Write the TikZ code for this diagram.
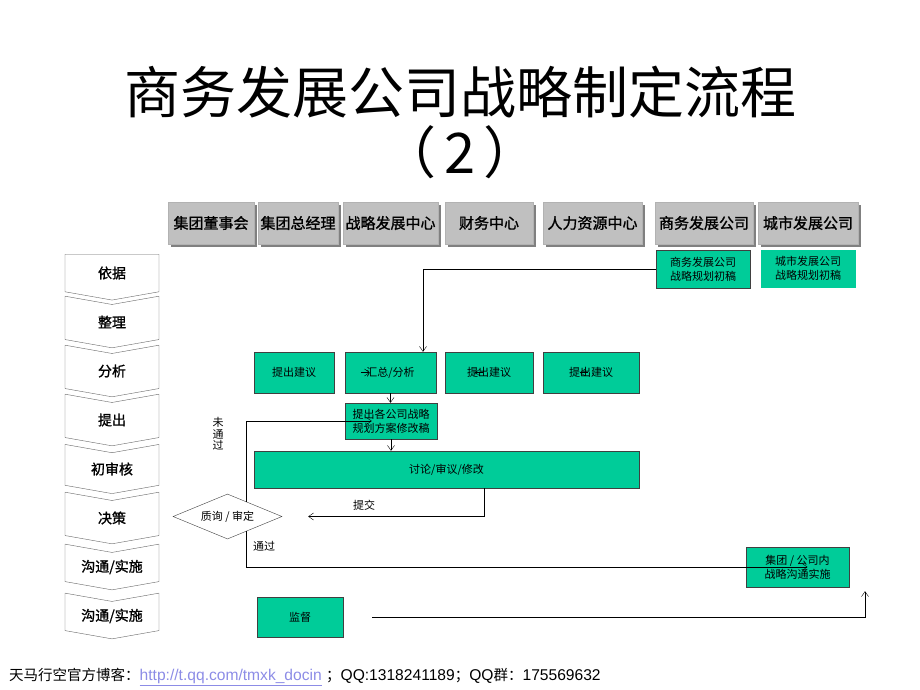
\documentclass[tikz,border=0pt]{standalone}
\usepackage{fontspec}
\setmainfont{Liberation Sans}
\newfontfamily\cjk{Noto Sans CJK SC}
\newfontfamily\cjkbold[FakeBold=1.2]{Noto Sans CJK SC}
\usetikzlibrary{shapes.geometric,shapes.symbols,shadows,arrows.meta,calc}
\definecolor{boxgreen}{RGB}{0,204,153}
\definecolor{headgray}{RGB}{192,192,192}
\definecolor{shadegray}{RGB}{128,128,128}
\definecolor{linkblue}{RGB}{140,140,230}

\begin{document}
\begin{tikzpicture}[x=1pt, y=-1pt,
    head/.style={draw=gray!60, fill=headgray, minimum height=42pt, inner sep=0pt,
        drop shadow={shadow xshift=2.5pt, shadow yshift=-2.5pt, fill=shadegray, opacity=1},
        font=\cjkbold\fontsize{15}{17}\selectfont},
    stage/.style={signal, signal to=south, signal from=north, signal pointer angle=160,
        draw=black!60, fill=white, minimum width=94pt, minimum height=40pt, inner sep=0pt,
        font=\cjkbold\fontsize{14}{16}\selectfont},
    task/.style={draw=black!75, fill=boxgreen, inner sep=0pt, align=center,
        font=\cjk\fontsize{11}{14}\selectfont},
    check/.style={diamond, draw=black!75, fill=white, minimum width=109pt,
        minimum height=45pt, aspect=2.4, inner sep=0pt, font=\cjk\fontsize{11}{13}\selectfont},
    flow/.style={thin, -{Straight Barb[length=5pt, width=7pt]}},
    note/.style={font=\cjk\fontsize{11}{11.5}\selectfont, align=center}
]
    \useasboundingbox (0,0) rectangle (920,690);

    \node[font=\cjk\fontsize{56}{60}\selectfont] (title) at (460,92) {商务发展公司战略制定流程};
    \node[font=\cjk\fontsize{56}{60}\selectfont] (subtitle) at (460,152) {（\hspace{8pt}2\hspace{8pt}）};

    \node[head, minimum width=86pt] (h1) at (211,223) {集团董事会};
    \node[head, minimum width=80pt] (h2) at (298,223) {集团总经理};
    \node[head, minimum width=95pt] (h3) at (390.5,223) {战略发展中心};
    \node[head, minimum width=88pt] (h4) at (489,223) {财务中心};
    \node[head, minimum width=99pt] (h5) at (592.5,223) {人力资源中心};
    \node[head, minimum width=98pt] (h6) at (704,223) {商务发展公司};
    \node[head, minimum width=100pt] (h7) at (808,223) {城市发展公司};

    \node[stage, signal from=nowhere] (st1) at (112,273) {依据};
    \node[stage] (st2) at (112,322) {整理};
    \node[stage] (st3) at (112,371) {分析};
    \node[stage] (st4) at (112,420) {提出};
    \node[stage] (st5) at (112,469) {初审核};
    \node[stage] (st6) at (112,518) {决策};
    \node[stage] (st7) at (112,567) {沟通/实施};
    \node[stage] (st8) at (112,616) {沟通/实施};

    \node[task, minimum width=94pt, minimum height=38pt] (bizdraft) at (703,269) {商务发展公司\\战略规划初稿};
    \node[task, draw=boxgreen, minimum width=94pt, minimum height=37pt] (citydraft) at (808,268.5) {城市发展公司\\战略规划初稿};
    \node[task, minimum width=80pt, minimum height=41pt] (s1) at (294,372.5) {提出建议};
    \node[task, minimum width=91pt, minimum height=41pt] (hz) at (390.5,372.5) {汇总/分析};
    \node[task, minimum width=88pt, minimum height=41pt] (s3) at (489,372.5) {提出建议};
    \node[task, minimum width=96pt, minimum height=41pt] (s4) at (591,372.5) {提出建议};
    \node[task, minimum width=92pt, minimum height=36pt] (rev) at (391,421) {提出各公司战略\\规划方案修改稿};
    \node[task, minimum width=385pt, minimum height=37pt] (disc) at (446.5,469.5) {讨论/审议/修改};
    \node[check] (dia) at (227.5,516.5) {质询 / 审定};
    \node[task, minimum width=103pt, minimum height=40pt] (impl) at (797.5,567) {集团 / 公司内\\战略沟通实施};
    \node[task, minimum width=86pt, minimum height=40pt] (sup) at (300,617) {监督};

    \node[note] (fail) at (218,434) {未\\通\\过};
    \node[note] (pass) at (264,546) {通过};
    \node[note] (submit) at (364,505) {提交};

    \draw[flow] (bizdraft.west) -| ([xshift=32.5pt]hz.north);
    \draw[flow] (hz.south) -- (hz.south |- rev.north);
    \draw[flow] (rev.south) -- (rev.south |- disc.north);
    \draw[flow] ([xshift=37.5pt]disc.south) |- ([xshift=26pt]dia.east);
    \draw[flow] ($(dia.north)!0.34!(dia.east)$) |- ([xshift=27pt]rev.west);
    \draw[flow] ($(dia.south)!0.34!(dia.east)$) |- ([xshift=10pt]impl.center);
    \draw[flow] ([xshift=29pt]sup.east) -| ([xshift=67.5pt,yshift=-4pt]impl.south);
    \draw[flow] ([xshift=16pt]hz.west) -- ([xshift=25pt]hz.west);
    \draw[flow] ([xshift=38pt]s3.west) -- ([xshift=30pt]s3.west);
    \draw[flow] ([xshift=45pt]s4.west) -- ([xshift=37pt]s4.west);

    \node[anchor=west, inner sep=0pt, font=\fontsize{15.6}{17}\selectfont] (footer) at (9,677)
        {{\cjk\fontsize{14.5}{17}\selectfont 天马行空官方博客：}\textcolor{linkblue}{\underline{http://t.qq.com/tmxk\_docin}} {\cjk\fontsize{14.5}{17}\selectfont ；}QQ:1318241189{\cjk\fontsize{14.5}{17}\selectfont ；}QQ{\cjk\fontsize{14.5}{17}\selectfont 群：}175569632};
\end{tikzpicture}
\end{document}
